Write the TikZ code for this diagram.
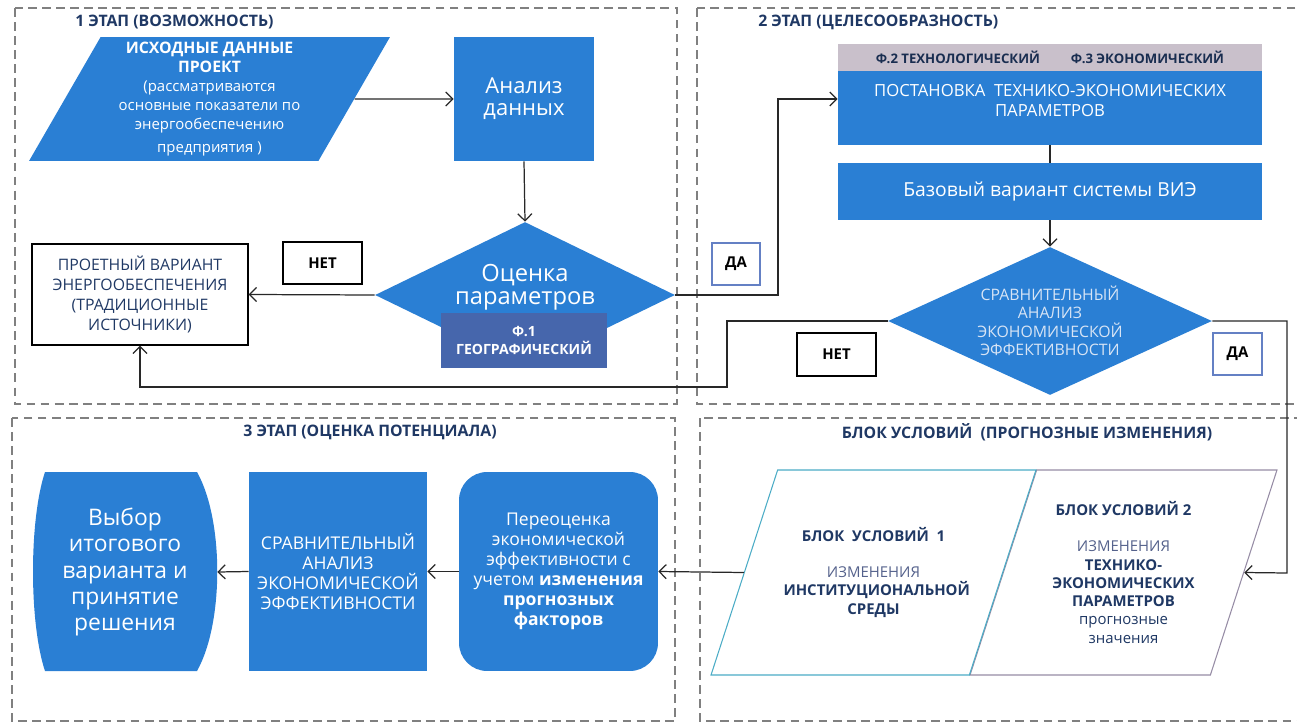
\documentclass[tikz,border=0pt]{standalone}
\usepackage{fontspec}
\setmainfont{Open Sans}
\usetikzlibrary{shapes.geometric,arrows.meta,positioning,calc}
\definecolor{stblue}{RGB}{42,127,212}
\definecolor{stgeo}{RGB}{70,102,172}
\definecolor{sthdr}{RGB}{201,192,203}
\definecolor{stnavy}{RGB}{31,56,100}
\definecolor{stsoft}{RGB}{85,98,140}
\definecolor{stframe}{RGB}{128,128,128}
\definecolor{stans}{RGB}{100,128,196}
\definecolor{stteal}{RGB}{75,172,198}
\definecolor{stlilac}{RGB}{150,140,165}
\definecolor{stline}{RGB}{40,40,40}
\definecolor{stpale}{RGB}{215,228,245}
\newcommand\fsz[2]{\fontsize{#1}{#2}\selectfont}
% fixed-size text box, so the slanted shapes keep their angles
\newcommand\tbox[3]{\begin{minipage}[c][#1][c]{#2}\centering #3\end{minipage}}

\begin{document}
\begin{tikzpicture}[x=0.02cm, y=-0.02cm,
  frm/.style={draw=stframe, dash pattern=on 5pt off 3pt, line width=0.6pt},
  ttl/.style={font=\fsz{9}{11}\bfseries, text=stnavy, inner sep=0pt},
  blk/.style={fill=stblue, text=white, align=center, inner sep=1pt},
  ans/.style={draw, line width=0.7pt, fill=white, font=\fsz{8.5}{10}\bfseries, minimum height=0.84cm},
  cnd/.style={trapezium, trapezium left angle=72, trapezium right angle=108, trapezium stretches body,
    fill=white, line width=0.6pt, text=stnavy, inner sep=0pt},
  lnk/.style={-{Straight Barb[length=4pt,width=8pt]}, line width=0.7pt, draw=stline},
  ln/.style={line width=0.7pt, draw=stline}
]
  \useasboundingbox (0,0) rectangle (1297,723);

  % stage frames
  \foreach \xa/\ya/\xb/\yb in {15/8/677/404, 697/8/1310/404, 12/418/675/721, 700/418/1310/721} {
    \draw[frm] (\xa,\ya) rectangle (\xb,\yb);
  }
  \node[ttl, anchor=west] (t1) at (75,22) {1 ЭТАП (ВОЗМОЖНОСТЬ)};
  \node[ttl, anchor=west] (t2) at (758,22) {2 ЭТАП (ЦЕЛЕСООБРАЗНОСТЬ)};
  \node[ttl] (t3) at (370,432) {3 ЭТАП (ОЦЕНКА ПОТЕНЦИАЛА)};
  \node[ttl] (t4) at (1027,432) {БЛОК УСЛОВИЙ~~(ПРОГНОЗНЫЕ ИЗМЕНЕНИЯ)};

  % stage 1
  \node[blk, trapezium, trapezium left angle=60, trapezium right angle=120, trapezium stretches body,
    minimum width=7.22cm, inner sep=0pt, font=\fsz{8.5}{10.8}]
    (src) at (209.5,99) {\tbox{2.48cm}{4.3cm}{{\fsz{9}{10.8}\bfseries ИСХОДНЫЕ ДАННЫЕ\\ПРОЕКТ\\}(рассматриваются\\основные показатели по\\энергообеспечению\\[2pt]предприятия )}};
  \node[blk, minimum width=2.8cm, minimum height=2.48cm, font=\fsz{12.5}{12.5}] (anl) at (524,99) {Анализ\\данных};
  \node[blk, diamond, minimum width=6cm, minimum height=2.92cm, inner sep=0pt] (est) at (525,295) {};
  \node[text=white, align=center, font=\fsz{13.5}{13}] (est-t) at (525,287) {Оценка\\параметров};
  \node[blk, fill=stgeo, minimum width=3.32cm, minimum height=1.1cm, font=\fsz{8}{10.5}\bfseries] (geo) at (524,340.5) {Ф.1\\ГЕОГРАФИЧЕСКИЙ};
  \node[draw, line width=0.7pt, minimum width=4.32cm, minimum height=2.02cm, align=center, text=stnavy, font=\fsz{9}{11.4}]
    (trad) at (140,294.5) {ПРОЕТНЫЙ ВАРИАНТ\\ЭНЕРГООБЕСПЕЧЕНИЯ\\(ТРАДИЦИОННЫЕ\\ИСТОЧНИКИ)};
  \node[ans, minimum width=1.58cm] (no1) at (322.5,263) {НЕТ};
  \node[ans, draw=stans, minimum width=0.96cm] (yes1) at (736,264) {ДА};

  % stage 2
  \node[blk, fill=sthdr, text=stnavy!80!black, minimum width=8.48cm, minimum height=0.54cm, font=\fsz{7.5}{9}\bfseries]
    (hdr) at (1050,57.5) {Ф.2 ТЕХНОЛОГИЧЕСКИЙ\hspace{0.62cm}Ф.3 ЭКОНОМИЧЕСКИЙ};
  \node[blk, minimum width=8.48cm, minimum height=1.48cm] (post) at (1050,108) {};
  \node[text=white, align=center, font=\fsz{9.5}{11.4}] (post-t) at (1050,101) {ПОСТАНОВКА~~ТЕХНИКО-ЭКОНОМИЧЕСКИХ\\ПАРАМЕТРОВ};
  \node[blk, minimum width=8.48cm, minimum height=1.14cm, font=\fsz{11}{13}] (base) at (1050,191.5) {Базовый вариант системы ВИЭ};
  \node[blk, diamond, aspect=2.19, text=stpale, minimum width=6.48cm, minimum height=2.96cm, inner sep=0pt, font=\fsz{9}{10.5}]
    (cmp) at (1050,321) {СРАВНИТЕЛЬНЫЙ\\АНАЛИЗ\\ЭКОНОМИЧЕСКОЙ\\ЭФФЕКТИВНОСТИ};
  \node[ans, minimum width=1.58cm, minimum height=0.86cm] (no2) at (836.5,354.5) {НЕТ};
  \node[ans, draw=stans, minimum width=0.98cm] (yes2) at (1237.5,354) {ДА};

  % conditions block
  \node[cnd, draw=stlilac, minimum width=6.14cm, font=\fsz{8.5}{10.4}] (cond2) at (1123.5,572.5)
    {\tbox{4.1cm}{3.3cm}{{\bfseries БЛОК УСЛОВИЙ 2}\\[10pt]{\color{stsoft}ИЗМЕНЕНИЯ}\\{\bfseries ТЕХНИКО-}\\{\bfseries ЭКОНОМИЧЕСКИХ}\\{\bfseries ПАРАМЕТРОВ}\\прогнозные\\значения}};
  \node[cnd, draw=stteal, minimum width=6.5cm, font=\fsz{8.5}{10.4}] (cond1) at (873.5,572.5)
    {\tbox{4.1cm}{3.6cm}{{\bfseries БЛОК~~УСЛОВИЙ~~1}\\[10pt]{\color{stsoft}ИЗМЕНЕНИЯ}\\{\bfseries ИНСТИТУЦИОНАЛЬНОЙ}\\{\bfseries СРЕДЫ}}};

  % stage 3
  \node[blk, rounded corners=16pt, minimum width=3.98cm, minimum height=3.98cm, font=\fsz{10}{11.4}] (reval) at (558.5,571.5)
    {Переоценка\\экономической\\эффективности с\\учетом \textbf{изменения}\\\textbf{прогнозных}\\\textbf{факторов}};
  \node[blk, minimum width=3.56cm, minimum height=3.98cm, font=\fsz{10}{11.4}] (cmp3) at (338,571.5)
    {СРАВНИТЕЛЬНЫЙ\\АНАЛИЗ\\ЭКОНОМИЧЕСКОЙ\\ЭФФЕКТИВНОСТИ};
  \fill[stblue] (45,472) -- (197,472) .. controls (224,520) and (224,623) .. (197,671)
    -- (45,671) .. controls (29,623) and (29,520) .. (45,472);
  \node[text=white, align=center, minimum width=3.68cm, minimum height=3.98cm, font=\fsz{13}{15}] (choice) at (125,572)
    {Выбор\\итогового\\варианта и\\принятие\\решения};

  % connectors
  \coordinate (jn1) at (778,99);
  \coordinate (jn2) at (727,387);
  \coordinate (jn3) at (1287,573);
  \draw[lnk] (src.east) -- (anl.west);
  \draw[lnk] (anl.south) -- (est.north);
  \draw[lnk] (est.west) -- (trad.east);
  \draw[lnk] (est.east) -| (jn1) -- (jn1 -| post.west);
  \draw[ln] (post.south) -- (base.north);
  \draw[lnk] (base.south) -- (cmp.north);
  \draw[lnk] (cmp.west) -| (jn2) -| (trad.south);
  \draw[lnk] (cmp.east) -| (jn3) -- (cond2.east);
  \draw[lnk] (cond1.west) -- (reval.east);
  \draw[lnk] (reval.west) -- (cmp3.east);
  \draw[lnk] (cmp3.west) -- (choice.east);
\end{tikzpicture}
\end{document}
